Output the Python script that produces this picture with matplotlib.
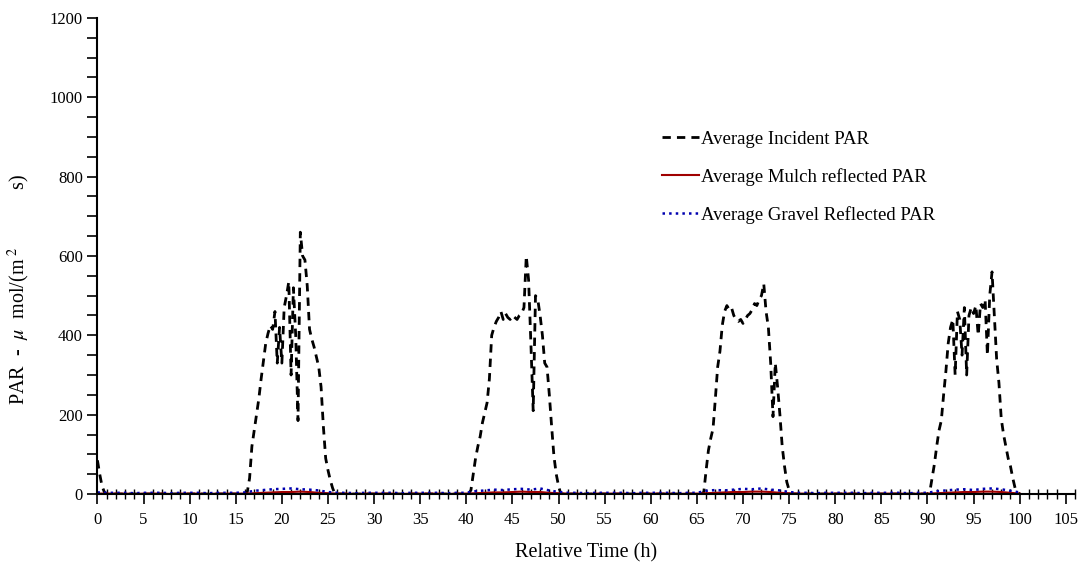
import numpy as np
import matplotlib
matplotlib.use("Agg")
import matplotlib.pyplot as plt
from matplotlib.ticker import MultipleLocator

plt.rcParams['font.family'] = ['Liberation Serif', 'DejaVu Serif']
plt.rcParams['mathtext.fontset'] = 'stix'

# incident PAR at 15 min steps
step = 0.25
start_vals = [85, 50, 20, 5, 0]              # from 0 h
day1_start = 16.0
day1_vals = [0, 5, 40, 120, 160, 200, 240, 290, 335, 380, 405, 425, 415, 460,
             330, 420, 330, 470, 500, 535, 300, 520, 400, 185, 660, 600, 590,
             525, 415, 390, 370, 345, 320, 270, 170, 90, 60, 35, 15, 0]
day2_start = 40.25
day2_vals = [0, 10, 50, 90, 120, 145, 180, 205, 230, 290, 400, 420, 435, 445,
             460, 440, 455, 445, 440, 450, 445, 440, 450, 455, 470, 600, 540,
             380, 210, 500, 490, 450, 400, 330, 320, 250, 170, 95, 50, 20, 0]
day3_start = 65.5
day3_vals = [0, 5, 60, 110, 140, 165, 240, 320, 360, 425, 460, 475, 465, 470,
             450, 440, 435, 440, 430, 440, 450, 455, 465, 480, 475, 490, 500,
             530, 460, 420, 330, 195, 330, 270, 200, 120, 70, 30, 10, 0]
day4_start = 90.0
day4_vals = [0, 5, 40, 75, 120, 160, 185, 250, 310, 380, 420, 440, 300, 460,
             440, 350, 470, 300, 450, 470, 455, 475, 400, 480, 470, 490, 350,
             500, 560, 450, 340, 280, 190, 150, 120, 90, 70, 40, 15, 5, 0]

# reflected PAR, hourly from 0 h to 100 h
gravel_vals = [4, 3, 3, 3, 2, 3, 3, 3, 2, 3, 3, 3, 2, 3, 3, 3, 4,
               8, 10, 12, 13, 14, 12, 11, 9, 5,
               3, 3, 2, 3, 3, 3, 3, 2, 3, 3, 3, 3, 2, 3, 3,
               7, 9, 11, 10, 12, 13, 11, 14, 9, 5,
               3, 3, 2, 3, 3, 3, 3, 2, 3, 3, 3, 3, 2, 3, 3,
               8, 10, 9, 11, 13, 12, 14, 11, 9, 5,
               3, 3, 2, 3, 3, 3, 3, 2, 3, 3, 3, 3, 2, 3, 3,
               7, 9, 11, 12, 10, 13, 14, 12, 8, 4]
mulch_vals = [1, 1, 1, 1, 0, 1, 1, 1, 0, 1, 1, 1, 0, 1, 1, 1, 1,
              2, 3, 4, 5, 5, 6, 5, 3, 2,
              1, 1, 0, 1, 1, 1, 1, 0, 1, 1, 1, 1, 0, 1, 1,
              2, 3, 4, 4, 5, 6, 5, 5, 3, 2,
              1, 1, 0, 1, 1, 1, 1, 0, 1, 1, 1, 1, 0, 1, 1,
              2, 3, 4, 5, 5, 6, 6, 5, 3, 2,
              1, 1, 0, 1, 1, 1, 1, 0, 1, 1, 1, 1, 0, 1, 1,
              2, 3, 4, 5, 5, 6, 6, 5, 3, 1]


def seg(t0, vals):
    return t0 + step * np.arange(len(vals)), np.array(vals, float)


parts = [seg(0.0, start_vals), seg(day1_start, day1_vals), seg(day2_start, day2_vals),
         seg(day3_start, day3_vals), seg(day4_start, day4_vals)]
inc_t = np.concatenate([p[0] for p in parts])
inc_v = np.concatenate([p[1] for p in parts])
refl_t = np.arange(len(gravel_vals))

fig = plt.figure(figsize=(10.8, 5.69), dpi=100)
ax = fig.add_axes([0.0902, 0.1318, 0.9052, 0.8366])

ax.plot(inc_t, inc_v, color='black', lw=2.0, dashes=(3, 2.2),
        label='Average Incident PAR')
ax.plot(refl_t, mulch_vals, color='#a00000', lw=1.5,
        label='Average Mulch reflected PAR')
ax.plot(refl_t, gravel_vals, color='#0000b0', lw=1.8, ls=':',
        label='Average Gravel Reflected PAR')

ax.set_xlim(0, 106)
ax.set_ylim(0, 1200)
ax.xaxis.set_minor_locator(MultipleLocator(1))
ax.yaxis.set_major_locator(MultipleLocator(200))
ax.yaxis.set_minor_locator(MultipleLocator(50))
ax.set_xticks(np.arange(0, 106, 5))
ax.tick_params(axis='x', which='major', direction='out', length=7, width=1.2,
               labelsize=12, pad=6)
ax.tick_params(axis='x', which='minor', direction='inout', length=7, width=1.0)
ax.tick_params(axis='y', which='both', direction='out', length=7, width=1.2,
               labelsize=12)
for s in ['top', 'right']:
    ax.spines[s].set_visible(False)
for s in ['left', 'bottom']:
    ax.spines[s].set_linewidth(1.5)

ax.set_xlabel('Relative Time (h)', fontsize=14.5, labelpad=11)
ax.set_ylabel(r'PAR  -  $\mathit{\mu}$  mol/(m$^{\ 2}$$\qquad\quad\ \ \ $s)',
              fontsize=14.5)
ax.yaxis.set_label_coords(-0.067, 0.43)

ax.legend(loc='upper left', bbox_to_anchor=(0.597, 0.80), bbox_transform=fig.transFigure,
          frameon=False, fontsize=13.5, handlelength=2.0, handletextpad=0.1,
          labelspacing=1.07)

fig.savefig('out.png', dpi=100)
